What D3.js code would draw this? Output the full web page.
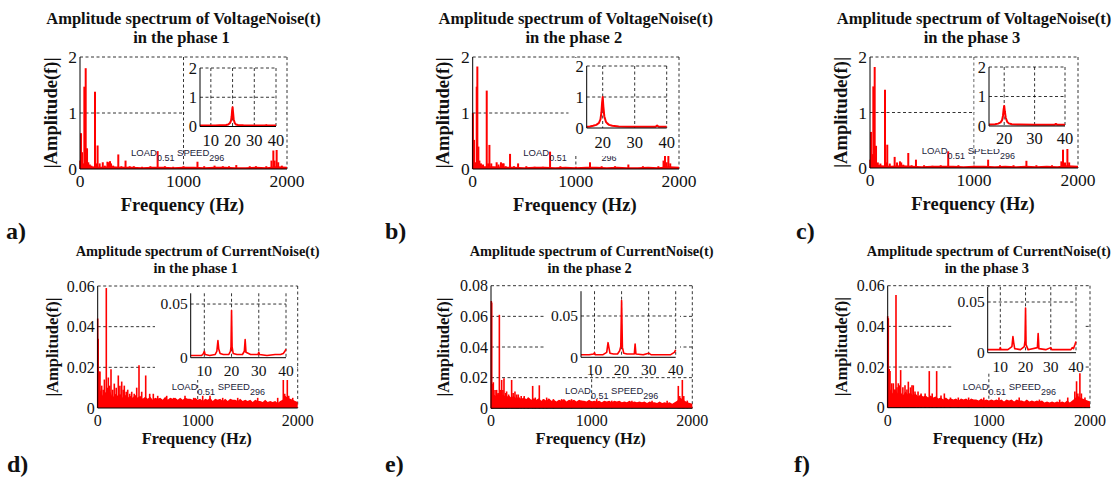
<!DOCTYPE html>
<html>
<head>
<meta charset="utf-8">
<script src="https://cdn.jsdelivr.net/npm/d3@7"></script>
<style>
  body { margin: 0; background: #fff; }
  svg text { font-family: "Liberation Serif", "Times New Roman", serif; fill: #111; }
</style>
</head>
<body>
<svg id="fig" width="1114" height="478"></svg>
<script>
// ---- data ----
var freqTicks = [0, 1000, 2000];
var voltTicks = [0, 1, 2];
var curTicks6 = [0, 0.02, 0.04, 0.06];
var curTicks8 = [0, 0.02, 0.04, 0.06, 0.08];
var insetTicksV1 = [10, 20, 30, 40];
var insetTicksV23 = [20, 30, 40];
var insetTicksC = [10, 20, 30, 40];
var insetYTicksV = [0, 1, 2];
var insetYTicksC = [0, 0.05];
var loadText = "0.51";
var speedText = "296";

// voltage spectra: [frequency Hz, amplitude]
var voltPeaks1 = [[3,0.15],[10,0.64],[20,0.3],[30,0.1],[42,1.47],[55,1.80],[62,0.2],[68,0.37],[80,0.12],[95,0.08],[110,0.06],
  [145,1.38],[158,0.1],[170,0.42],[190,0.1],[220,0.12],[240,0.06],[265,0.13],[280,0.12],[290,0.14],[300,0.1],[320,0.06],
  [370,0.26],[400,0.05],[440,0.15],[480,0.05],[520,0.05],[600,0.04],[680,0.05],[750,0.32],[820,0.05],[900,0.04],[1000,0.05],
  [1135,0.13],[1200,0.05],[1300,0.06],[1380,0.05],[1440,0.05],[1510,0.07],[1640,0.05],[1700,0.05],[1800,0.05],
  [1850,0.15],[1868,0.33],[1880,0.15],[1900,0.36],[1915,0.12],[1950,0.06]];
var voltPeaks2 = [[2,1.0],[13,0.52],[25,0.12],[39,1.47],[45,1.83],[55,0.4],[65,0.15],[80,0.1],[100,0.08],[136,1.4],[150,0.1],
  [162,0.43],[180,0.1],[232,0.12],[250,0.08],[274,0.12],[290,0.1],[300,0.1],[320,0.05],[362,0.27],[400,0.05],[440,0.1],
  [520,0.05],[600,0.04],[680,0.04],[750,0.31],[850,0.05],[1000,0.04],[1137,0.12],[1250,0.05],[1380,0.05],[1509,0.08],
  [1650,0.05],[1800,0.05],[1850,0.15],[1864,0.35],[1880,0.12],[1897,0.35],[1915,0.1]];
var voltPeaks3 = [[3,0.15],[10,0.65],[20,0.25],[32,1.47],[45,1.82],[52,0.2],[58,0.4],[75,0.1],[100,0.08],[144,1.41],[155,0.1],
  [166,0.42],[190,0.08],[237,0.2],[260,0.1],[288,0.12],[300,0.1],[320,0.06],[368,0.27],[400,0.05],[442,0.15],[520,0.05],
  [600,0.04],[680,0.05],[752,0.3],[850,0.05],[1000,0.04],[1136,0.15],[1250,0.05],[1380,0.05],[1504,0.13],[1600,0.05],
  [1750,0.05],[1840,0.12],[1856,0.33],[1875,0.1],[1898,0.37],[1915,0.1]];
// voltage noise floor, every 100 Hz
var voltFloor1 = [0.08,0.05,0.04,0.05,0.04,0.04,0.03,0.04,0.04,0.03,0.04,0.04,0.03,0.04,0.04,0.03,0.03,0.04,0.03,0.05,0.04];
var voltFloor2 = [0.09,0.05,0.05,0.04,0.04,0.03,0.04,0.04,0.03,0.04,0.03,0.04,0.04,0.03,0.04,0.03,0.03,0.04,0.03,0.05,0.04];
var voltFloor3 = [0.08,0.05,0.04,0.05,0.04,0.03,0.04,0.04,0.04,0.03,0.04,0.04,0.03,0.04,0.03,0.04,0.03,0.04,0.03,0.05,0.04];
// zoomed voltage spectra
var voltZoom1 = [[5,0.03],[8,0.03],[10,0.03],[12,0.03],[14,0.04],[16,0.04],[17,0.05],[18,0.07],[18.8,0.12],[19.3,0.2],[19.6,0.35],
  [19.8,0.55],[20,0.66],[20.2,0.5],[20.5,0.25],[21,0.12],[21.5,0.07],[22.5,0.05],[25,0.04],[30,0.03],[35,0.03],[35.5,0.05],[36,0.03],[40,0.03]];
var voltZoom2 = [[15,0.04],[16,0.05],[17,0.07],[18,0.1],[18.8,0.16],[19.3,0.28],[19.6,0.5],[19.8,0.8],[20,1.0],[20.2,0.7],[20.5,0.38],
  [21,0.2],[21.5,0.14],[22,0.1],[23,0.07],[25,0.05],[28,0.04],[32,0.04],[36.5,0.04],[37,0.08],[37.5,0.04],[40,0.04]];
var voltZoom3 = [[15,0.05],[17,0.06],[18,0.08],[18.8,0.12],[19.3,0.2],[19.6,0.35],[19.8,0.55],[20,0.68],[20.2,0.5],[20.5,0.28],
  [21,0.14],[21.5,0.09],[22.5,0.06],[25,0.05],[30,0.04],[36.5,0.04],[37,0.07],[37.5,0.04],[40,0.04]];

// current spectra
var curPeaks1 = [[0,0.044],[5,0.034],[15,0.018],[23,0.018],[40,0.011],[55,0.009],[67,0.014],[86,0.059],[95,0.01],[106,0.015],
  [120,0.011],[133,0.019],[150,0.009],[166,0.012],[185,0.01],[206,0.016],[222,0.011],[240,0.013],[255,0.009],[266,0.011],
  [285,0.008],[300,0.009],[320,0.007],[340,0.008],[365,0.007],[390,0.01],[413,0.021],[440,0.008],[480,0.016],[520,0.007],
  [556,0.007],[600,0.006],[690,0.006],[760,0.005],[873,0.006],[960,0.005],[1050,0.006],[1123,0.006],[1250,0.005],[1400,0.005],
  [1600,0.005],[1800,0.005],[1856,0.014],[1870,0.007],[1896,0.014],[1910,0.006],[1950,0.005]];
var curPeaks2 = [[3,0.07],[7,0.069],[15,0.016],[23,0.017],[40,0.012],[56,0.012],[70,0.01],[83,0.061],[95,0.012],[106,0.0185],
  [118,0.012],[129,0.0196],[145,0.01],[155,0.011],[175,0.009],[205,0.0185],[220,0.01],[238,0.011],[255,0.009],[271,0.009],
  [300,0.008],[330,0.008],[370,0.007],[414,0.0146],[440,0.007],[480,0.015],[520,0.006],[553,0.007],[620,0.006],[702,0.006],
  [800,0.006],[900,0.005],[1050,0.006],[1200,0.005],[1400,0.005],[1600,0.005],[1750,0.005],[1861,0.0146],[1875,0.008],
  [1901,0.0185],[1915,0.008],[1950,0.005]];
var curPeaks3 = [[0,0.045],[6,0.044],[15,0.019],[23,0.018],[40,0.012],[56,0.012],[70,0.009],[82,0.0554],[92,0.01],[105,0.012],
  [117,0.011],[128,0.0185],[150,0.01],[171,0.011],[190,0.009],[204,0.0128],[225,0.01],[240,0.011],[253,0.011],[270,0.008],
  [300,0.008],[330,0.007],[370,0.007],[411,0.018],[440,0.007],[484,0.018],[527,0.006],[560,0.007],[620,0.005],[698,0.005],
  [800,0.005],[950,0.005],[1100,0.005],[1300,0.005],[1500,0.004],[1700,0.004],[1780,0.005],[1850,0.008],[1867,0.013],
  [1880,0.007],[1900,0.017],[1915,0.007],[1950,0.005]];
// current noise floor, every 25 Hz (x 0.001)
var curFloor1 = [14,9,6,8,6,8,5,7,6,7,5,6.5,5,6,5,6.5,5,6,4.5,5.5,4.5,5.5,4,5,4.5,5,4,5.5,4,5,4.5,5,4,5,4,5,4.5,4.5,4,5,
  4,4.5,3.5,4.5,4,5,3.5,4.5,4,4.5,3.5,4.5,3.5,4.5,4,4,3.5,4.5,3.5,4,3.5,4,3,4,3.5,3.5,3,4,3,3.5,3,3.5,2.5,3.5,4,6,5,4.5,4,3.5,3];
var curFloor2 = [16,9,8,10,8,9,7,8.5,7,8,6.5,7.5,6,7,6,7,5.5,6.5,5.5,6.5,5,6,5,6.5,5,5.5,4.5,5.5,5,6,4.5,5.5,5,5.5,4.5,5.5,5,5,4.5,5.5,
  4.5,5,4.5,5,4,5,4.5,5,4,5,4.5,5,4,4.5,4,5,4,4.5,4,4.5,4,4.5,3.5,4.5,4,4,3.5,4.5,3.5,4,3.5,4,3,4,5,7,6,5,4,3.5,3];
var curFloor3 = [15,9,7,9,7,8,6,8,6.5,7.5,6,7,5.5,6.5,5.5,6,5,6,5,5.5,4.5,5,4,5,4,4.5,4,4.5,3.5,4.5,4,4.5,3.5,4.5,4,4,3.5,4.5,3.5,4,
  3.5,4,3.5,4,3.5,4,3,4,3.5,4,3,4,3.5,3.5,3,4,3,3.5,3,3.5,3,3.5,2.5,3,2.5,3,2.5,3,2.5,3,2.5,3.5,2.5,3.5,4.5,6,5,4.5,4,3.5,3];
// zoomed current spectra
var curZoom1 = [[5,0.002],[7,0.002],[9,0.002],[9.7,0.004],[10,0.006],[10.3,0.003],[12,0.002],[14,0.003],[14.6,0.006],[15,0.016],
  [15.3,0.008],[15.8,0.004],[17,0.003],[19,0.003],[19.6,0.006],[19.8,0.01],[20,0.044],[20.2,0.01],[20.6,0.004],[22,0.003],
  [24,0.003],[24.7,0.006],[25,0.017],[25.3,0.005],[27,0.003],[29.7,0.003],[30,0.005],[30.3,0.003],[33,0.002],[36,0.003],
  [38,0.003],[39,0.004],[39.6,0.006],[40,0.008]];
var curZoom2 = [[5,0.003],[8,0.003],[9.7,0.004],[10,0.0056],[10.3,0.003],[13,0.003],[14.5,0.006],[15,0.0177],[15.3,0.012],
  [15.7,0.005],[17,0.004],[18.5,0.004],[19.3,0.008],[19.7,0.013],[20,0.0686],[20.3,0.012],[20.8,0.005],[22,0.004],[24.7,0.004],
  [25,0.016],[25.3,0.004],[28,0.003],[30,0.005],[31,0.003],[35,0.003],[38,0.003],[39.5,0.006],[40,0.009]];
var curZoom3 = [[5,0.003],[8,0.003],[9.7,0.003],[10,0.005],[10.3,0.003],[13,0.003],[14.6,0.006],[15,0.016],[15.3,0.01],
  [15.7,0.004],[18,0.003],[19.5,0.006],[19.8,0.012],[20,0.044],[20.2,0.008],[21,0.003],[24.7,0.005],[25,0.019],[25.3,0.004],
  [28,0.003],[30,0.005],[30.4,0.003],[35,0.003],[38,0.003],[38.5,0.005],[39,0.004],[39.6,0.008],[40,0.011]];

var voltFloorFreqs = d3.range(0, 2001, 100);
var curFloorFreqs = d3.range(0, 2001, 25);

var red = "#f00";
var svg = d3.select("#fig");

var fmtCur = function (d) { return d === 0 ? "0" : d3.format(".2f")(d); };
var fmtVolt = d3.format("d");

// layout of each panel (pixels)
var panels = [
  {letter: "a)", lx: 6, ly: 239, title: "Amplitude spectrum of VoltageNoise(t)", phase: "in the phase 1", tfs: 16.5, t1: 24, t2: 42.5,
   peaks: voltPeaks1, floor: voltFloor1, floorFreqs: voltFloorFreqs, floorScale: 1, zoom: voltZoom1,
   left: 80, right: 287, top: 57, bottom: 169, ymax: 2, yTicks: voltTicks, fmt: fmtVolt, fs: 17.5, lfs: 18.5, labX: 57, xlabY: 210.7,
   il: 200, ir: 276, it: 68, ib: 126.5, ix: [5, 40], iymax: 2, ixTicks: insetTicksV1, iyTicks: insetYTicksV, ifmt: fmtVolt, ifs: 16.5, ixOff: 19,
   bg: [184.5, 58, 286, 150], noteX: 131, noteY: 156, stemW: 2, lineW: 2},
  {letter: "b)", lx: 385, ly: 239, title: "Amplitude spectrum of VoltageNoise(t)", phase: "in the phase 2", tfs: 16.5, t1: 24, t2: 42.5,
   peaks: voltPeaks2, floor: voltFloor2, floorFreqs: voltFloorFreqs, floorScale: 1, zoom: voltZoom2,
   left: 472.7, right: 679, top: 57, bottom: 169, ymax: 2, yTicks: voltTicks, fmt: fmtVolt, fs: 17.5, lfs: 18.5, labX: 449, xlabY: 210.7,
   il: 586.7, ir: 666.7, it: 66, ib: 128, ix: [15, 40], iymax: 2, ixTicks: insetTicksV23, iyTicks: insetYTicksV, ifmt: fmtVolt, ifs: 16.5, ixOff: 19.5,
   bg: [568.5, 58, 678, 156], noteX: 523.3, noteY: 156, stemW: 2, lineW: 2},
  {letter: "c)", lx: 796, ly: 239, title: "Amplitude spectrum of VoltageNoise(t)", phase: "in the phase 3", tfs: 16.5, t1: 24, t2: 42.5,
   peaks: voltPeaks3, floor: voltFloor3, floorFreqs: voltFloorFreqs, floorScale: 1, zoom: voltZoom3,
   left: 870, right: 1078, top: 57, bottom: 168, ymax: 2, yTicks: voltTicks, fmt: fmtVolt, fs: 17.5, lfs: 18.5, labX: 847, xlabY: 210,
   il: 989, ir: 1065, it: 67, ib: 126, ix: [15, 40], iymax: 2, ixTicks: insetTicksV23, iyTicks: insetYTicksV, ifmt: fmtVolt, ifs: 16.5, ixOff: 18,
   bg: [974.5, 58, 1077, 149], noteX: 921.7, noteY: 154, stemW: 2, lineW: 2},
  {letter: "d)", lx: 7, ly: 472, title: "Amplitude spectrum of CurrentNoise(t)", phase: "in the phase 1", tfs: 14.4, t1: 256, t2: 272.7,
   peaks: curPeaks1, floor: curFloor1, floorFreqs: curFloorFreqs, floorScale: 0.001, zoom: curZoom1,
   left: 97.7, right: 297.7, top: 286, bottom: 408, ymax: 0.06, yTicks: curTicks6, fmt: fmtCur, fs: 16, lfs: 16.5, labX: 57.5, xlabY: 444,
   il: 190.7, ir: 286, it: 293.3, ib: 357.7, ix: [5, 40], iymax: 0.06, ixTicks: insetTicksC, iyTicks: insetYTicksC, ifmt: fmtCur, ifs: 15.5, ixOff: 18.3,
   bg: [155, 287, 297, 380], noteX: 171.7, noteY: 390, stemW: 1.6, lineW: 1.6},
  {letter: "e)", lx: 385, ly: 472, title: "Amplitude spectrum of CurrentNoise(t)", phase: "in the phase 2", tfs: 14.4, t1: 256, t2: 272.7,
   peaks: curPeaks2, floor: curFloor2, floorFreqs: curFloorFreqs, floorScale: 0.001, zoom: curZoom2,
   left: 491, right: 692.3, top: 285.7, bottom: 408.3, ymax: 0.08, yTicks: curTicks8, fmt: fmtCur, fs: 16, lfs: 16.5, labX: 449, xlabY: 444,
   il: 581, ir: 675.7, it: 291.2, ib: 357.3, ix: [5, 40], iymax: 0.08, ixTicks: insetTicksC, iyTicks: insetYTicksC, ifmt: fmtCur, ifs: 15.5, ixOff: 18,
   bg: [545, 287, 680, 374], noteX: 565, noteY: 393.5, stemW: 1.6, lineW: 1.6},
  {letter: "f)", lx: 794, ly: 472, title: "Amplitude spectrum of CurrentNoise(t)", phase: "in the phase 3", tfs: 14.4, t1: 256, t2: 272.7,
   peaks: curPeaks3, floor: curFloor3, floorFreqs: curFloorFreqs, floorScale: 0.001, zoom: curZoom3,
   left: 887.7, right: 1090, top: 285.7, bottom: 407.7, ymax: 0.06, yTicks: curTicks6, fmt: fmtCur, fs: 16, lfs: 16.5, labX: 847, xlabY: 444,
   il: 987.7, ir: 1076, it: 286.8, ib: 352.7, ix: [5, 40], iymax: 0.065, ixTicks: insetTicksC, iyTicks: insetYTicksC, ifmt: fmtCur, ifs: 15.5, ixOff: 19,
   bg: [953, 287, 1085, 373], noteX: 962.7, noteY: 389.5, stemW: 1.6, lineW: 1.6}
];

function dashed(sel) {
  return sel.attr("stroke", "#000").attr("stroke-width", 0.8).attr("stroke-dasharray", "3,2.5").attr("fill", "none");
}

function drawPanel(p) {
  var g = svg.append("g");
  var x = d3.scaleLinear().domain([0, 2000]).range([p.left, p.right]);
  var y = d3.scaleLinear().domain([0, p.ymax]).range([p.bottom, p.top]);

  // grid (dashed, also closes the box at the top and right)
  g.selectAll(".hg").data(p.yTicks.filter(function (d) { return d > 0; })).enter().append("line")
    .attr("x1", p.left).attr("x2", p.right)
    .attr("y1", function (d) { return y(d); }).attr("y2", function (d) { return y(d); })
    .call(dashed);
  g.selectAll(".vg").data(freqTicks.filter(function (d) { return d > 0; })).enter().append("line")
    .attr("x1", function (d) { return x(d); }).attr("x2", function (d) { return x(d); })
    .attr("y1", p.top).attr("y2", p.bottom)
    .call(dashed);

  // noise floor
  var area = d3.area()
    .x(function (d, i) { return x(p.floorFreqs[i]); })
    .y0(y(0))
    .y1(function (d) { return y(d * p.floorScale); });
  g.append("path").datum(p.floor).attr("d", area).attr("fill", red);

  // spectral lines
  g.selectAll(".stem").data(p.peaks).enter().append("line")
    .attr("x1", function (d) { return x(d[0]); }).attr("x2", function (d) { return x(d[0]); })
    .attr("y1", y(0)).attr("y2", function (d) { return y(d[1]); })
    .attr("stroke", red).attr("stroke-width", p.stemW);

  // LOAD / SPEED note
  var note = g.append("text").attr("x", p.noteX).attr("y", p.noteY)
    .style("font-family", "'Liberation Sans', Arial, sans-serif").style("font-size", "9.5px").style("fill", "#1c1c3a");
  note.append("tspan").text("LOAD");
  note.append("tspan").attr("dy", 5).style("font-size", "9px").text(loadText);
  note.append("tspan").attr("dy", -5).text(" SPEED");
  note.append("tspan").attr("dy", 5).style("font-size", "9px").text(speedText);

  // white background of the inset
  g.append("rect").attr("x", p.bg[0]).attr("y", p.bg[1])
    .attr("width", p.bg[2] - p.bg[0]).attr("height", p.bg[3] - p.bg[1]).attr("fill", "#fff");

  // inset
  var xi = d3.scaleLinear().domain(p.ix).range([p.il, p.ir]);
  var yi = d3.scaleLinear().domain([0, p.iymax]).range([p.ib, p.it]);
  g.selectAll(".ihg").data(p.iyTicks.filter(function (d) { return d > 0; })).enter().append("line")
    .attr("x1", p.il).attr("x2", p.ir)
    .attr("y1", function (d) { return yi(d); }).attr("y2", function (d) { return yi(d); })
    .call(dashed);
  g.selectAll(".ivg").data(p.ixTicks).enter().append("line")
    .attr("x1", function (d) { return xi(d); }).attr("x2", function (d) { return xi(d); })
    .attr("y1", p.it).attr("y2", p.ib)
    .call(dashed);
  var line = d3.line()
    .x(function (d) { return xi(d[0]); })
    .y(function (d) { return yi(d[1]); });
  g.append("path").datum(p.zoom).attr("d", line)
    .attr("fill", "none").attr("stroke", red).attr("stroke-width", p.lineW).attr("stroke-linejoin", "round");
  g.append("line").attr("x1", p.il).attr("x2", p.il).attr("y1", p.it).attr("y2", p.ib).attr("stroke", "#000");
  g.append("line").attr("x1", p.il).attr("x2", p.ir).attr("y1", p.ib).attr("y2", p.ib).attr("stroke", "#000");
  g.selectAll(".ixl").data(p.ixTicks).enter().append("text")
    .attr("x", function (d) { return xi(d); }).attr("y", p.ib + p.ixOff)
    .attr("text-anchor", "middle").style("font-size", p.ifs + "px")
    .text(function (d) { return d; });
  g.selectAll(".iyl").data(p.iyTicks).enter().append("text")
    .attr("x", p.il - 3).attr("y", function (d) { return yi(d); }).attr("dy", "0.35em")
    .attr("text-anchor", "end").style("font-size", p.ifs + "px")
    .text(p.ifmt);

  // main axes
  g.append("line").attr("x1", p.left).attr("x2", p.left).attr("y1", p.top).attr("y2", p.bottom).attr("stroke", "#000");
  g.append("line").attr("x1", p.left).attr("x2", p.right).attr("y1", p.bottom).attr("y2", p.bottom).attr("stroke", "#000");
  g.selectAll(".xl").data(freqTicks).enter().append("text")
    .attr("x", function (d) { return x(d); }).attr("y", p.bottom + 18)
    .attr("text-anchor", "middle").style("font-size", p.fs + "px")
    .text(function (d) { return d; });
  g.selectAll(".yl").data(p.yTicks).enter().append("text")
    .attr("x", p.left - 3).attr("y", function (d) { return y(d); }).attr("dy", "0.35em")
    .attr("text-anchor", "end").style("font-size", p.fs + "px")
    .text(p.fmt);

  // labels and titles
  var cx = (p.left + p.right) / 2;
  g.append("text").attr("x", cx - 1).attr("y", p.xlabY).attr("text-anchor", "middle")
    .style("font-size", p.lfs + "px").style("font-weight", "bold").text("Frequency (Hz)");
  g.append("text").attr("transform", "translate(" + p.labX + "," + ((p.top + p.bottom) / 2) + ") rotate(-90)")
    .attr("text-anchor", "middle").style("font-size", p.lfs + "px").style("font-weight", "bold").text("|Amplitude(f)|");
  g.append("text").attr("x", cx).attr("y", p.t1).attr("text-anchor", "middle")
    .style("font-size", p.tfs + "px").style("font-weight", "bold").text(p.title);
  g.append("text").attr("x", cx - 2).attr("y", p.t2).attr("text-anchor", "middle")
    .style("font-size", p.tfs + "px").style("font-weight", "bold").text(p.phase);
  g.append("text").attr("x", p.lx).attr("y", p.ly)
    .style("font-size", "24px").style("font-weight", "bold").text(p.letter);
}

panels.forEach(drawPanel);
</script>
</body>
</html>
